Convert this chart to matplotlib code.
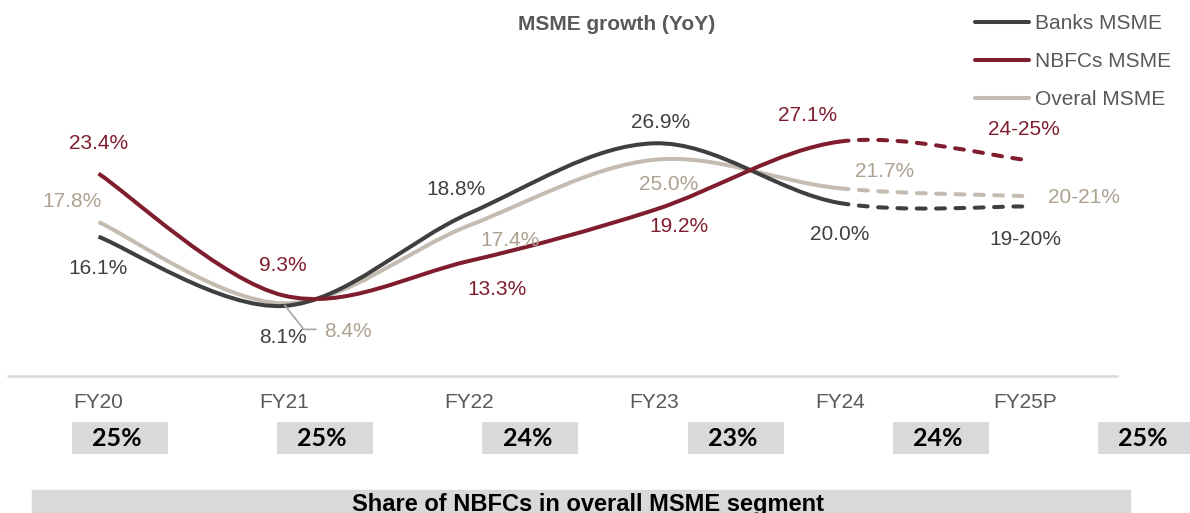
import numpy as np
import matplotlib.pyplot as plt
from matplotlib.lines import Line2D
from matplotlib.path import Path
from matplotlib.patches import PathPatch, Rectangle

# Data
years = ["FY20", "FY21", "FY22", "FY23", "FY24", "FY25P"]
banks = [16.1, 8.1, 18.8, 26.9, 20.0, 19.6]
nbfcs = [23.4, 9.3, 13.3, 19.2, 27.1, 25.0]
overall = [17.8, 8.4, 17.4, 25.0, 21.7, 20.8]
banks_labels = ["16.1%", "8.1%", "18.8%", "26.9%", "20.0%", "19-20%"]
nbfcs_labels = ["23.4%", "9.3%", "13.3%", "19.2%", "27.1%", "24-25%"]
overall_labels = ["17.8%", "8.4%", "17.4%", "25.0%", "21.7%", "20-21%"]
nbfc_share = ["25%", "25%", "24%", "23%", "24%", "25%"]

# Layout (pixels)
W, H = 1190, 513
X0, DX = 98.5, 185.3      # first category x, spacing
Y0, DY = 376, 8.65        # baseline y, px per percentage point

plt.rcParams['font.family'] = ['Liberation Sans', 'DejaVu Sans']
fig = plt.figure(figsize=(W / 100, H / 100), dpi=100)
ax = fig.add_axes([0, 0, 1, 1])
ax.set_xlim(-X0 / DX, (W - X0) / DX)
ax.set_ylim((Y0 - H) / DY, Y0 / DY)
ax.axis('off')


def bezier_segments(vals):
    # Excel-style smoothed line: cubic Bezier through each point
    p = np.column_stack([np.arange(len(vals), dtype=float), vals])
    ext = np.vstack([p[0], p, p[-1]])
    m = (ext[2:] - ext[:-2]) / 2
    segs = []
    for i in range(len(p) - 1):
        segs.append([p[i], p[i] + m[i] / 3, p[i + 1] - m[i + 1] / 3, p[i + 1]])
    return segs


def draw_series(vals, color, z):
    segs = bezier_segments(vals)
    verts = [segs[0][0]]
    codes = [Path.MOVETO]
    for s in segs[:-1]:
        verts += s[1:]
        codes += [Path.CURVE4] * 3
    ax.add_patch(PathPatch(Path(verts, codes), fill=False, edgecolor=color,
                           lw=2.9, capstyle='butt', zorder=z))
    last = segs[-1]
    ax.add_patch(PathPatch(Path(last, [Path.MOVETO] + [Path.CURVE4] * 3),
                           fill=False, edgecolor=color, lw=2.9,
                           linestyle=(0, (2.2, 2.6)), capstyle='round', zorder=z))


c_banks, c_nbfc, c_over = '#3f3f3f', '#7f1d2e', '#c4bcb0'
t_banks, t_nbfc, t_over = '#404040', '#7f1d2e', '#ada190'

draw_series(overall, c_over, 2)
draw_series(banks, c_banks, 3)
draw_series(nbfcs, c_nbfc, 4)

# value labels (pixel offsets from points)
off_banks = [(0, -32), (-1, -32), (-13, 24), (6, 21), (0, -31), (0, -33)]
off_nbfc = [(0, 30), (-1, 30), (28, -29), (25, -17), (-32, 26), (-1, 30)]
off_over = [(-27, 21), (64, -28), (41, -15), (14, -25), (45, 17), (59, -1)]
for vals, labs, offs, col in [(banks, banks_labels, off_banks, t_banks),
                              (nbfcs, nbfcs_labels, off_nbfc, t_nbfc),
                              (overall, overall_labels, off_over, t_over)]:
    for i, (v, lab) in enumerate(zip(vals, labs)):
        ax.annotate(lab, (i, v), xytext=offs[i], textcoords='offset pixels',
                    ha='center', va='center', fontsize=15, color=col, zorder=6)

# leader line for the overall FY21 label
lx = [1 + d / DX for d in (1, 20, 32)]
ly = [overall[1] - d / DY for d in (2, 26, 26)]
ax.plot(lx, ly, color='#a6a6a6', lw=1.2, zorder=5)

# baseline and category labels
ax.hlines(0, -92 / DX, (1118 - X0) / DX, color='#d9d9d9', lw=1.8)
for i, yr in enumerate(years):
    ax.text(i, (Y0 - 402) / DY, yr, ha='center', va='center',
            fontsize=15, color='#595959')

# title
fig.text(617 / W, 1 - 25 / H, "MSME growth (YoY)", ha='center', va='center',
         fontsize=15, fontweight='bold', color='#595959')

# legend
handles = [Line2D([], [], color=c, lw=2.9, solid_capstyle='round')
           for c in (c_banks, c_nbfc, c_over)]
leg = ax.legend(handles, ["Banks MSME", "NBFCs MSME", "Overal MSME"],
                loc='upper left', bbox_to_anchor=(975 / W, 1 - 14 / H),
                bbox_transform=fig.transFigure, frameon=False, fontsize=15,
                handlelength=2.6, handletextpad=0.3, labelspacing=0.92,
                borderpad=0, borderaxespad=0)
for txt in leg.get_texts():
    txt.set_color('#595959')

# share of NBFCs strip
ax2 = fig.add_axes([0, 1 - 454 / H, 1, 32 / H])
ax2.set_xlim(-120 / 205.2, (W - 120) / 205.2)
ax2.set_ylim(0, 1)
ax2.axis('off')
ax2.bar(range(len(nbfc_share)), 1, width=96 / 205.2, bottom=0,
        color='#d9d9d9', align='center')
for i, s in enumerate(nbfc_share):
    ax2.text(i - 3 / 205.2, 0.5, s, ha='center', va='center', fontsize=18,
             fontweight='bold', family=['Lato', 'DejaVu Sans'], color='black')

fig.patches.append(Rectangle((32 / W, 0), (1130 - 32) / W, 23 / H,
                             transform=fig.transFigure, color='#d9d9d9', zorder=0))
fig.text(588 / W, 2 / H, "Share of NBFCs in overall MSME segment", ha='center',
         va='baseline', fontsize=17, fontweight='bold', color='black')

plt.savefig('out.png', dpi=100)
